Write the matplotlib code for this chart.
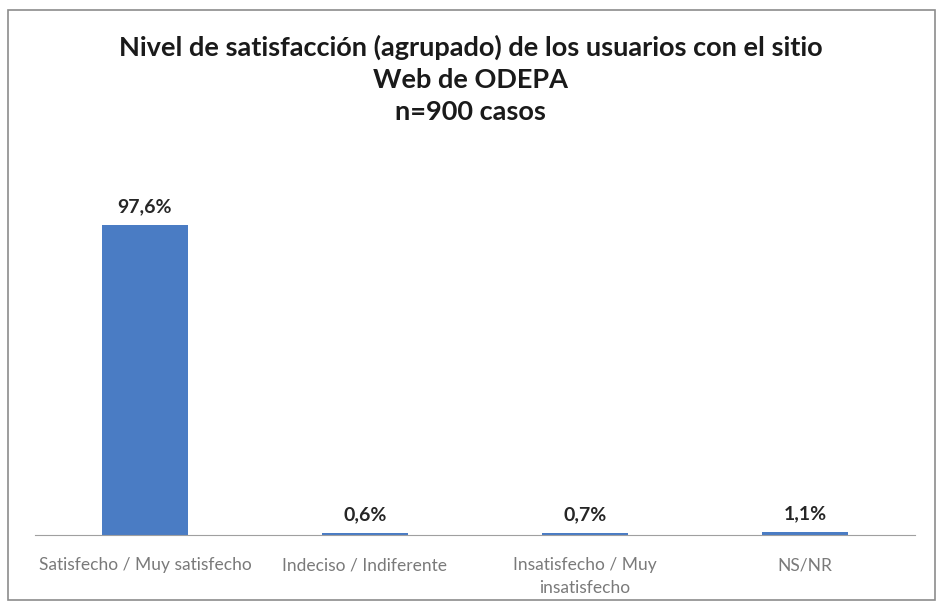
import matplotlib
matplotlib.use("Agg")
import matplotlib.pyplot as plt
from matplotlib.patches import Rectangle

categories = ["Satisfecho / Muy satisfecho", "Indeciso / Indiferente",
              "Insatisfecho / Muy\ninsatisfecho", "NS/NR"]
values = [97.6, 0.6, 0.7, 1.1]

plt.rcParams['font.family'] = ['Lato', 'DejaVu Sans']

fig = plt.figure(figsize=(9.41, 6.07), dpi=100)
fig.patch.set_facecolor("white")
fig.add_artist(Rectangle((8/941, 7/607), 927/941, 590/607, transform=fig.transFigure,
                         fill=False, edgecolor="#8c8c8c", linewidth=1.2))

ax = fig.add_axes([35/941, 72/607, 880/941, 381/607])
x = range(len(categories))
bars = ax.bar(x, values, width=0.39, color="#4a7cc4")
ax.set_ylim(0, 120)
ax.set_xlim(-0.5, len(categories) - 0.5)
for xi, v in zip(x, values):
    ax.text(xi, v + 3.0, f"{v:.1f}%".replace(".", ","), ha="center", va="bottom",
            fontsize=14, fontweight="bold", color="#262626")
ax.set_xticks(list(x))
ax.set_xticklabels(categories, fontsize=12.5, color="#7a7a7a", linespacing=1.55)
ax.tick_params(axis="x", length=0, pad=16)
ax.set_yticks([])
for s in ["top", "right", "left"]:
    ax.spines[s].set_visible(False)
ax.spines["bottom"].set_color("#a0a0a0")

fig.text(0.5, 1 - 79/607, "Nivel de satisfacción (agrupado) de los usuarios con el sitio\nWeb de ODEPA\nn=900 casos",
         ha="center", va="center", fontsize=19.5, fontweight="bold", color="#1a1a1a",
         linespacing=1.4)

fig.savefig("out.png", dpi=100)
